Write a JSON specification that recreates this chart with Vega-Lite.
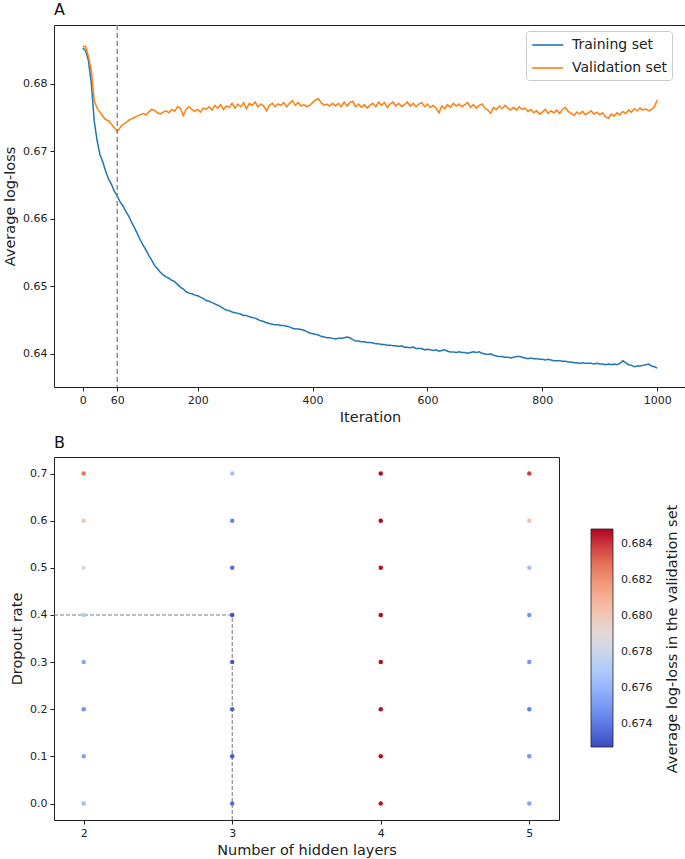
{
  "$schema": "https://vega.github.io/schema/vega-lite/v6.json",
  "background": "white",
  "padding": {"left": 2, "top": 1, "right": 1, "bottom": 2},
  "spacing": 10,
  "config": {
    "font": "DejaVu Sans",
    "view": {"stroke": "#222", "strokeWidth": 1},
    "axis": {"grid": false, "domain": false, "tickColor": "#222", "tickSize": 4, "labelFontSize": 11, "labelColor": "#222", "titleFontSize": 14.5, "titleFontWeight": "normal", "titleColor": "#222", "labelPadding": 3, "titlePadding": 5, "labelFont": "DejaVu Sans", "titleFont": "DejaVu Sans"},
    "title": {"fontSize": 16, "fontWeight": "normal", "anchor": "start", "frame": "group", "offset": 6, "color": "#111", "font": "DejaVu Sans"},
    "legend": {"labelFont": "DejaVu Sans", "titleFont": "DejaVu Sans"}
  },
  "resolve": {"scale": {"color": "independent"}, "legend": {"color": "independent"}},
  "vconcat": [
    {
      "title": "A",
      "width": 632,
      "height": 362,
      "layer": [
        {
          "data": {"values": [
            {"i":0,"train":0.6853,"valid":0.6855},{"i":5,"train":0.6849,"valid":0.6855},{"i":10,"train":0.6834,"valid":0.6840},{"i":15,"train":0.6800,"valid":0.6820},{"i":20,"train":0.6745,"valid":0.6775},
            {"i":25,"train":0.6716,"valid":0.6764},{"i":30,"train":0.6695,"valid":0.6758},{"i":35,"train":0.6684,"valid":0.6752},{"i":40,"train":0.6670,"valid":0.6747},{"i":45,"train":0.6659,"valid":0.6745},
            {"i":50,"train":0.6651,"valid":0.6740},{"i":55,"train":0.6641,"valid":0.6735},{"i":60,"train":0.6634,"valid":0.6729},{"i":65,"train":0.6625,"valid":0.6735},{"i":70,"train":0.6619,"valid":0.6740},
            {"i":75,"train":0.6611,"valid":0.6742},{"i":80,"train":0.6604,"valid":0.6746},{"i":85,"train":0.6595,"valid":0.6748},{"i":90,"train":0.6587,"valid":0.6750},{"i":95,"train":0.6578,"valid":0.6752},
            {"i":100,"train":0.6569,"valid":0.6754},{"i":105,"train":0.6561,"valid":0.6756},{"i":110,"train":0.6554,"valid":0.6754},{"i":115,"train":0.6546,"valid":0.6758},{"i":120,"train":0.6539,"valid":0.6762},
            {"i":125,"train":0.6531,"valid":0.6761},{"i":130,"train":0.6526,"valid":0.6757},{"i":135,"train":0.6521,"valid":0.6755},{"i":140,"train":0.6517,"valid":0.6758},{"i":145,"train":0.6514,"valid":0.6760},
            {"i":150,"train":0.6512,"valid":0.6757},{"i":155,"train":0.6509,"valid":0.6762},{"i":160,"train":0.6507,"valid":0.6759},{"i":165,"train":0.6503,"valid":0.6766},{"i":170,"train":0.6499,"valid":0.6764},
            {"i":175,"train":0.6496,"valid":0.6753},{"i":180,"train":0.6492,"valid":0.6762},{"i":185,"train":0.6490,"valid":0.6766},{"i":190,"train":0.6489,"valid":0.6762},{"i":195,"train":0.6487,"valid":0.6759},
            {"i":200,"train":0.6486,"valid":0.6762},{"i":205,"train":0.6484,"valid":0.6758},{"i":210,"train":0.6482,"valid":0.6764},{"i":215,"train":0.6479,"valid":0.6762},{"i":220,"train":0.6478,"valid":0.6766},
            {"i":225,"train":0.6476,"valid":0.6761},{"i":230,"train":0.6474,"valid":0.6768},{"i":235,"train":0.6472,"valid":0.6764},{"i":240,"train":0.6470,"valid":0.6769},{"i":245,"train":0.6467,"valid":0.6762},
            {"i":250,"train":0.6465,"valid":0.6767},{"i":255,"train":0.6464,"valid":0.6765},{"i":260,"train":0.6462,"valid":0.6771},{"i":265,"train":0.6461,"valid":0.6764},{"i":270,"train":0.6460,"valid":0.6770},
            {"i":275,"train":0.6459,"valid":0.6766},{"i":280,"train":0.6457,"valid":0.6772},{"i":285,"train":0.6457,"valid":0.6763},{"i":290,"train":0.6455,"valid":0.6771},{"i":295,"train":0.6454,"valid":0.6768},
            {"i":300,"train":0.6453,"valid":0.6773},{"i":305,"train":0.6451,"valid":0.6766},{"i":310,"train":0.6449,"valid":0.6770},{"i":315,"train":0.6448,"valid":0.6767},{"i":320,"train":0.6446,"valid":0.6760},
            {"i":325,"train":0.6445,"valid":0.6768},{"i":330,"train":0.6444,"valid":0.6771},{"i":335,"train":0.6443,"valid":0.6766},{"i":340,"train":0.6443,"valid":0.6770},{"i":345,"train":0.6442,"valid":0.6768},
            {"i":350,"train":0.6442,"valid":0.6772},{"i":355,"train":0.6441,"valid":0.6766},{"i":360,"train":0.6440,"valid":0.6771},{"i":365,"train":0.6438,"valid":0.6775},{"i":370,"train":0.6437,"valid":0.6768},
            {"i":375,"train":0.6437,"valid":0.6772},{"i":380,"train":0.6436,"valid":0.6767},{"i":385,"train":0.6435,"valid":0.6769},{"i":390,"train":0.6433,"valid":0.6766},{"i":395,"train":0.6431,"valid":0.6768},
            {"i":400,"train":0.6430,"valid":0.6772},{"i":405,"train":0.6429,"valid":0.6776},{"i":410,"train":0.6428,"valid":0.6778},{"i":415,"train":0.6426,"valid":0.6772},{"i":420,"train":0.6425,"valid":0.6768},
            {"i":425,"train":0.6424,"valid":0.6770},{"i":430,"train":0.6424,"valid":0.6767},{"i":435,"train":0.6423,"valid":0.6771},{"i":440,"train":0.6422,"valid":0.6767},{"i":445,"train":0.6423,"valid":0.6771},
            {"i":450,"train":0.6423,"valid":0.6766},{"i":455,"train":0.6424,"valid":0.6773},{"i":460,"train":0.6425,"valid":0.6767},{"i":465,"train":0.6424,"valid":0.6772},{"i":470,"train":0.6421,"valid":0.6774},
            {"i":475,"train":0.6419,"valid":0.6766},{"i":480,"train":0.6419,"valid":0.6770},{"i":485,"train":0.6418,"valid":0.6765},{"i":490,"train":0.6418,"valid":0.6769},{"i":495,"train":0.6417,"valid":0.6764},
            {"i":500,"train":0.6417,"valid":0.6768},{"i":505,"train":0.6416,"valid":0.6771},{"i":510,"train":0.6415,"valid":0.6766},{"i":515,"train":0.6415,"valid":0.6773},{"i":520,"train":0.6414,"valid":0.6768},
            {"i":525,"train":0.6414,"valid":0.6772},{"i":530,"train":0.6413,"valid":0.6765},{"i":535,"train":0.6413,"valid":0.6770},{"i":540,"train":0.6412,"valid":0.6773},{"i":545,"train":0.6412,"valid":0.6767},
            {"i":550,"train":0.6411,"valid":0.6771},{"i":555,"train":0.6412,"valid":0.6766},{"i":560,"train":0.6410,"valid":0.6769},{"i":565,"train":0.6410,"valid":0.6773},{"i":570,"train":0.6409,"valid":0.6767},
            {"i":575,"train":0.6410,"valid":0.6771},{"i":580,"train":0.6408,"valid":0.6766},{"i":585,"train":0.6408,"valid":0.6770},{"i":590,"train":0.6408,"valid":0.6772},{"i":595,"train":0.6406,"valid":0.6766},
            {"i":600,"train":0.6407,"valid":0.6770},{"i":605,"train":0.6406,"valid":0.6765},{"i":610,"train":0.6405,"valid":0.6768},{"i":615,"train":0.6406,"valid":0.6764},{"i":620,"train":0.6404,"valid":0.6757},
            {"i":625,"train":0.6405,"valid":0.6767},{"i":630,"train":0.6406,"valid":0.6763},{"i":635,"train":0.6404,"valid":0.6769},{"i":640,"train":0.6403,"valid":0.6765},{"i":645,"train":0.6403,"valid":0.6771},
            {"i":650,"train":0.6402,"valid":0.6767},{"i":655,"train":0.6403,"valid":0.6770},{"i":660,"train":0.6402,"valid":0.6766},{"i":665,"train":0.6402,"valid":0.6769},{"i":670,"train":0.6401,"valid":0.6772},
            {"i":675,"train":0.6402,"valid":0.6765},{"i":680,"train":0.6403,"valid":0.6769},{"i":685,"train":0.6402,"valid":0.6764},{"i":690,"train":0.6403,"valid":0.6768},{"i":695,"train":0.6401,"valid":0.6770},
            {"i":700,"train":0.6400,"valid":0.6764},{"i":705,"train":0.6399,"valid":0.6761},{"i":710,"train":0.6400,"valid":0.6756},{"i":715,"train":0.6398,"valid":0.6765},{"i":720,"train":0.6397,"valid":0.6762},
            {"i":725,"train":0.6396,"valid":0.6767},{"i":730,"train":0.6396,"valid":0.6763},{"i":735,"train":0.6395,"valid":0.6768},{"i":740,"train":0.6395,"valid":0.6764},{"i":745,"train":0.6394,"valid":0.6761},
            {"i":750,"train":0.6395,"valid":0.6765},{"i":755,"train":0.6396,"valid":0.6761},{"i":760,"train":0.6396,"valid":0.6766},{"i":765,"train":0.6395,"valid":0.6762},{"i":770,"train":0.6394,"valid":0.6764},
            {"i":775,"train":0.6393,"valid":0.6759},{"i":780,"train":0.6394,"valid":0.6762},{"i":785,"train":0.6393,"valid":0.6757},{"i":790,"train":0.6393,"valid":0.6760},{"i":795,"train":0.6392,"valid":0.6755},
            {"i":800,"train":0.6392,"valid":0.6758},{"i":805,"train":0.6391,"valid":0.6762},{"i":810,"train":0.6392,"valid":0.6756},{"i":815,"train":0.6391,"valid":0.6760},{"i":820,"train":0.6390,"valid":0.6757},
            {"i":825,"train":0.6390,"valid":0.6761},{"i":830,"train":0.6390,"valid":0.6756},{"i":835,"train":0.6389,"valid":0.6762},{"i":840,"train":0.6389,"valid":0.6765},{"i":845,"train":0.6388,"valid":0.6759},
            {"i":850,"train":0.6388,"valid":0.6756},{"i":855,"train":0.6387,"valid":0.6753},{"i":860,"train":0.6387,"valid":0.6758},{"i":865,"train":0.6386,"valid":0.6755},{"i":870,"train":0.6387,"valid":0.6759},
            {"i":875,"train":0.6386,"valid":0.6754},{"i":880,"train":0.6386,"valid":0.6757},{"i":885,"train":0.6386,"valid":0.6760},{"i":890,"train":0.6385,"valid":0.6755},{"i":895,"train":0.6386,"valid":0.6758},
            {"i":900,"train":0.6385,"valid":0.6754},{"i":905,"train":0.6385,"valid":0.6757},{"i":910,"train":0.6384,"valid":0.6751},{"i":915,"train":0.6385,"valid":0.6749},{"i":920,"train":0.6384,"valid":0.6755},
            {"i":925,"train":0.6385,"valid":0.6752},{"i":930,"train":0.6384,"valid":0.6757},{"i":935,"train":0.6386,"valid":0.6754},{"i":940,"train":0.6390,"valid":0.6759},{"i":945,"train":0.6387,"valid":0.6756},
            {"i":950,"train":0.6384,"valid":0.6761},{"i":955,"train":0.6383,"valid":0.6758},{"i":960,"train":0.6381,"valid":0.6763},{"i":965,"train":0.6382,"valid":0.6760},{"i":970,"train":0.6382,"valid":0.6764},
            {"i":975,"train":0.6383,"valid":0.6761},{"i":980,"train":0.6384,"valid":0.6763},{"i":985,"train":0.6385,"valid":0.6760},{"i":990,"train":0.6382,"valid":0.6762},{"i":995,"train":0.6381,"valid":0.6766},
            {"i":1000,"train":0.6379,"valid":0.6776}
          ]},
          "transform": [{"fold": ["train", "valid"], "as": ["series", "loss"]}],
          "mark": {"type": "line", "strokeWidth": 1.5},
          "encoding": {
            "x": {"field": "i", "type": "quantitative", "scale": {"domain": [-50, 1050], "nice": false, "zero": false}, "axis": {"values": [0, 60, 200, 400, 600, 800, 1000], "format": "d", "title": "Iteration"}},
            "y": {"field": "loss", "type": "quantitative", "scale": {"domain": [0.6351, 0.6887], "nice": false, "zero": false}, "axis": {"values": [0.64, 0.65, 0.66, 0.67, 0.68], "format": ".2f", "title": "Average log-loss"}},
            "color": {"field": "series", "type": "nominal", "scale": {"domain": ["train", "valid"], "range": ["#1f77b4", "#ff7f0e"]},
              "legend": {"title": null, "orient": "none", "legendX": 472, "legendY": 6, "fillColor": "white", "strokeColor": "#cccccc", "cornerRadius": 3, "padding": 5, "symbolType": "M-1,0H3", "symbolSize": 240, "symbolStrokeWidth": 1.6, "labelFontSize": 14, "labelColor": "#222", "labelOffset": 23, "rowPadding": 7, "labelExpr": "datum.label == 'train' ? 'Training set' : 'Validation set'"}}
          }
        },
        {
          "data": {"values": [{"it": 60}]},
          "mark": {"type": "rule", "strokeDash": [5, 3], "color": "#7f7f7f", "strokeWidth": 1.3},
          "encoding": {"x": {"field": "it", "type": "quantitative"}}
        }
      ]
    },
    {
      "title": "B",
      "width": 505,
      "height": 363,
      "data": {"values": [
        {"layers": 2, "dropout": 0.0, "loss": 0.6765},
        {"layers": 2, "dropout": 0.1, "loss": 0.6753},
        {"layers": 2, "dropout": 0.2, "loss": 0.6748},
        {"layers": 2, "dropout": 0.3, "loss": 0.6753},
        {"layers": 2, "dropout": 0.4, "loss": 0.6771},
        {"layers": 2, "dropout": 0.5, "loss": 0.6788},
        {"layers": 2, "dropout": 0.6, "loss": 0.6803},
        {"layers": 2, "dropout": 0.7, "loss": 0.6827},
        {"layers": 3, "dropout": 0.0, "loss": 0.6737},
        {"layers": 3, "dropout": 0.1, "loss": 0.6731},
        {"layers": 3, "dropout": 0.2, "loss": 0.6733},
        {"layers": 3, "dropout": 0.3, "loss": 0.6731},
        {"layers": 3, "dropout": 0.4, "loss": 0.6728},
        {"layers": 3, "dropout": 0.5, "loss": 0.6737},
        {"layers": 3, "dropout": 0.6, "loss": 0.6744},
        {"layers": 3, "dropout": 0.7, "loss": 0.6766},
        {"layers": 4, "dropout": 0.0, "loss": 0.6846},
        {"layers": 4, "dropout": 0.1, "loss": 0.6847},
        {"layers": 4, "dropout": 0.2, "loss": 0.6847},
        {"layers": 4, "dropout": 0.3, "loss": 0.6847},
        {"layers": 4, "dropout": 0.4, "loss": 0.6848},
        {"layers": 4, "dropout": 0.5, "loss": 0.6847},
        {"layers": 4, "dropout": 0.6, "loss": 0.6848},
        {"layers": 4, "dropout": 0.7, "loss": 0.6847},
        {"layers": 5, "dropout": 0.0, "loss": 0.6754},
        {"layers": 5, "dropout": 0.1, "loss": 0.6749},
        {"layers": 5, "dropout": 0.2, "loss": 0.6742},
        {"layers": 5, "dropout": 0.3, "loss": 0.6749},
        {"layers": 5, "dropout": 0.4, "loss": 0.6748},
        {"layers": 5, "dropout": 0.5, "loss": 0.6765},
        {"layers": 5, "dropout": 0.6, "loss": 0.6805},
        {"layers": 5, "dropout": 0.7, "loss": 0.6839}
      ]},
      "resolve": {"scale": {"y": "independent"}, "axis": {"y": "independent"}},
      "layer": [
        {
          "layer": [
            {
              "data": {"values": [
                {"x": 1.8, "x2": 3, "y": 0.4, "y2": 0.4},
                {"x": 3, "x2": 3, "y": -0.035, "y2": 0.4}
              ]},
              "mark": {"type": "rule", "strokeDash": [4, 2], "color": "#7f7f7f", "strokeWidth": 1.1},
              "encoding": {
                "x": {"field": "x", "type": "quantitative"},
                "x2": {"field": "x2"},
                "y": {"field": "y", "type": "quantitative"},
                "y2": {"field": "y2"}
              }
            },
            {
              "mark": {"type": "circle", "size": 20, "opacity": 1},
              "encoding": {
                "x": {"field": "layers", "type": "quantitative", "scale": {"domain": [1.8, 5.2], "nice": false, "zero": false}, "axis": {"values": [2, 3, 4, 5], "format": "d", "title": "Number of hidden layers"}},
                "y": {"field": "dropout", "type": "quantitative", "scale": {"domain": [-0.035, 0.735], "nice": false, "zero": false}, "axis": {"orient": "left", "values": [0, 0.1, 0.2, 0.3, 0.4, 0.5, 0.6, 0.7], "format": ".1f", "title": "Dropout rate"}},
                "color": {"field": "loss", "type": "quantitative",
                  "scale": {"domain": [0.67272, 0.674234, 0.675748, 0.677261, 0.678775, 0.680289, 0.681803, 0.683316, 0.68483], "range": ["#3b4cc0", "#6282ea", "#8db0fe", "#b8d0f9", "#dddddd", "#f5c4ad", "#f49a7b", "#de604d", "#b40426"], "interpolate": "rgb"},
                  "legend": {"orient": "none", "legendX": 537, "legendY": 72, "direction": "vertical", "gradientLength": 218, "gradientThickness": 22, "gradientStrokeColor": "#222", "gradientStrokeWidth": 0.8, "values": [0.674, 0.676, 0.678, 0.68, 0.682, 0.684], "format": ".3f", "labelFontSize": 11, "labelColor": "#222", "labelOffset": 8, "labelOverlap": false, "title": null}}
              }
            }
          ]
        },
        {
          "mark": {"type": "circle", "opacity": 0},
          "encoding": {
            "x": {"field": "layers", "type": "quantitative"},
            "y": {"field": "dropout", "type": "quantitative", "scale": {"domain": [-0.035, 0.735], "nice": false, "zero": false},
              "axis": {"orient": "right", "title": "Average log-loss in the validation set", "titleAngle": 270, "titleBaseline": "top", "titlePadding": 106, "labels": false, "ticks": false, "domain": false, "grid": false}}
          }
        }
      ]
    }
  ]
}
